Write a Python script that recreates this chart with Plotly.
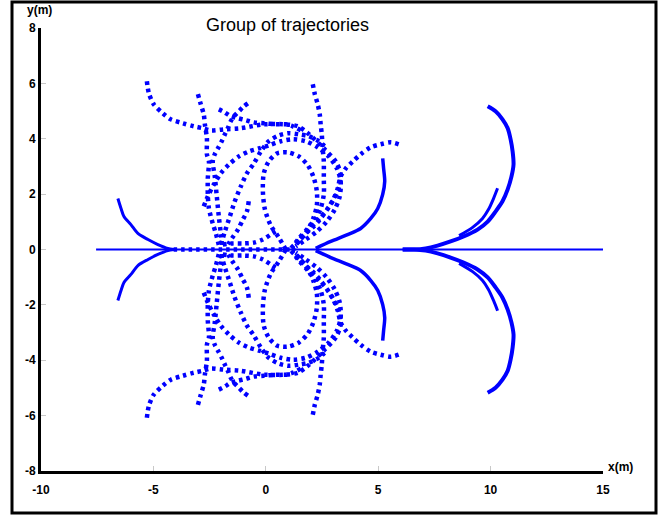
import plotly.graph_objects as go

# ---------------- data (upper half, metres); lower half is its mirror image ----------------
AXIS_X = [-7.55, 15.0]
AXIS_Y = [0.0, 0.0]
AXDOT_X = [-4.1, 1.3]
AXDOT_Y = [0.0, 0.0]

LEFT_X = [-6.58, -6.44, -6.31, -6.0, -5.69, -5.24, -4.8, -4.36, -4.09]
LEFT_Y = [1.84, 1.48, 1.19, 0.9, 0.58, 0.36, 0.18, 0.04, 0.0]

BIG_X = [9.87, 10.22, 10.53, 10.76, 10.89, 10.98, 11.02, 10.93, 10.76, 10.53, 10.22, 9.87, 9.42, 8.8, 8.22, 7.64, 7.11, 6.58, 6.09]
BIG_Y = [5.17, 4.99, 4.70, 4.38, 3.98, 3.54, 3.07, 2.64, 2.17, 1.74, 1.37, 1.01, 0.72, 0.47, 0.29, 0.14, 0.04, 0.0, 0.0]

SMALL_X = [10.31, 10.13, 9.91, 9.64, 9.2, 8.6]
SMALL_Y = [2.21, 1.84, 1.45, 1.12, 0.8, 0.5]

R1_X = [5.2, 5.24, 5.29, 5.2, 4.98, 4.67, 4.22, 3.64, 2.89, 2.22]
R1_Y = [3.29, 2.93, 2.46, 1.99, 1.48, 1.12, 0.76, 0.54, 0.29, 0.04]

R2_X = [5.91, 5.56, 5.11, 4.67, 4.22, 3.87, 3.56, 3.33, 3.2, 3.02, 2.76, 2.44, 2.13, 1.78, 1.47, 1.2]
R2_Y = [3.8, 3.87, 3.8, 3.69, 3.44, 3.18, 2.93, 2.64, 2.21, 1.84, 1.48, 1.12, 0.83, 0.58, 0.29, 0.04]

V1_X = [2.09, 2.18, 2.31, 2.4, 2.44, 2.49, 2.53, 2.58, 2.58, 2.58, 2.44, 2.22, 1.87, 1.47, 1.2]
V1_Y = [5.97, 5.61, 5.24, 4.88, 4.52, 4.16, 3.65, 3.18, 2.57, 1.99, 1.48, 1.12, 0.76, 0.4, 0.11]

A_X = [-5.29, -5.2, -4.98, -4.58, -4.22, -3.69, -3.2, -2.8, -2.44, -1.87, -1.11, -0.09, 0.89, 1.42, 1.87, 2.58, 3.11, 3.33, 3.2, 2.76, 2.13, 1.56, 1.11]
A_Y = [6.08, 5.64, 5.24, 4.92, 4.7, 4.56, 4.45, 4.38, 4.3, 4.34, 4.38, 4.52, 4.52, 4.45, 4.2, 3.65, 3.18, 2.71, 2.1, 1.48, 0.9, 0.4, 0.04]

B_X = [-3.02, -2.89, -2.76, -2.71, -2.62, -2.62, -2.53, -2.58, -2.58, -2.53, -2.36, -2.22, -2.13, -2.04]
B_Y = [5.61, 5.24, 4.88, 4.52, 4.01, 3.44, 3.18, 2.57, 1.99, 1.48, 0.94, 0.58, 0.29, 0.0]

C_X = [-0.8, -0.98, -1.2, -1.42, -1.56, -1.69, -1.82, -1.96, -2.13, -2.27, -2.36, -2.27, -2.18, -2.09, -2.0, -1.91]
C_Y = [5.28, 5.17, 4.99, 4.81, 4.63, 4.38, 4.16, 3.91, 3.65, 3.44, 3.18, 2.64, 1.92, 1.19, 0.58, 0.0]

D_X = [-2.09, -1.82, -1.56, -1.24, -0.89, -0.53, -0.09, 0.44, 0.89, 1.2, 1.56]
D_Y = [5.06, 4.95, 4.81, 4.74, 4.67, 4.59, 4.56, 4.52, 4.52, 4.45, 4.3]

OVAL_X = [0.89, 0.58, 0.22, -0.04, -0.13, -0.09, 0.13, 0.49, 0.98, 1.47, 1.87, 2.13, 2.27, 2.27, 2.13, 1.87, 1.51, 1.2]
OVAL_Y = [0.0, 0.43, 0.87, 1.45, 2.1, 2.75, 3.18, 3.47, 3.51, 3.36, 3.04, 2.6, 2.1, 1.59, 1.16, 0.72, 0.36, 0.07]

E_X = [-2.76, -2.58, -2.31, -2.0, -1.64, -1.2, -0.76, -0.31, 0.13, 0.67, 1.2, 1.78, 2.31, 2.8, 3.16, 3.33, 3.29, 3.07, 2.71, 2.27, 1.78, 1.33]
E_Y = [1.56, 1.92, 2.35, 2.75, 3.07, 3.36, 3.54, 3.65, 3.76, 3.91, 3.98, 3.91, 3.69, 3.36, 2.93, 2.46, 1.92, 1.45, 1.01, 0.65, 0.36, 0.11]

G_X = [-2.0, -1.82, -1.6, -1.38, -1.11, -0.84, -0.53, -0.22, 0.13, 0.58, 1.02, 1.47, 1.91, 2.36, 2.71]
G_Y = [0.18, 0.65, 1.19, 1.74, 2.28, 2.75, 3.11, 3.54, 3.91, 4.12, 4.2, 4.16, 4.09, 3.91, 3.65]

K_X = [-1.91, -1.47, -0.98, -0.53, -0.13, 0.22, 0.58]
K_Y = [0.18, 0.22, 0.22, 0.25, 0.36, 0.54, 0.72]

M_X = [-0.76, -0.84, -1.02, -1.24, -1.51, -1.73]
M_Y = [1.74, 1.37, 1.08, 0.72, 0.4, 0.11]

X_TICKS = [-10, -5, 0, 5, 10, 15]
Y_TICKS = [-8, -6, -4, -2, 0, 2, 4, 6, 8]

# ---------------- figure ----------------
BLUE = "#0000ff"
fig = go.Figure()


def add(xs, ys, width, dash=None, mirror=True):
    line = dict(color=BLUE, width=width, shape="spline", smoothing=0.8)
    if dash:
        line["dash"] = dash
    fig.add_trace(go.Scatter(x=xs, y=ys, mode="lines", line=line,
                             hoverinfo="skip", showlegend=False))
    if mirror:
        fig.add_trace(go.Scatter(x=xs, y=[-v for v in ys], mode="lines", line=line,
                                 hoverinfo="skip", showlegend=False))


DOT = "3.5px,4px"
add(AXIS_X, AXIS_Y, 2, mirror=False)
add(AXDOT_X, AXDOT_Y, 4.5, DOT, mirror=False)
add(LEFT_X, LEFT_Y, 3)
add(BIG_X, BIG_Y, 4)
add(SMALL_X, SMALL_Y, 3)
add(R1_X, R1_Y, 3.5)
for xs, ys in [(R2_X, R2_Y), (V1_X, V1_Y), (A_X, A_Y), (B_X, B_Y), (C_X, C_Y),
               (D_X, D_Y), (OVAL_X, OVAL_Y), (E_X, E_Y), (G_X, G_Y), (K_X, K_Y), (M_X, M_Y)]:
    add(xs, ys, 4.5, DOT)

TICKFONT = dict(family="Liberation Sans Narrow, Arial Narrow, Liberation Sans, Arial", size=12,
                color="black", weight="bold")

fig.update_layout(
    width=672, height=520,
    margin=dict(l=41, r=69, t=28, b=49),
    paper_bgcolor="white", plot_bgcolor="white",
    xaxis=dict(range=[-10, 15], tickvals=X_TICKS, ticktext=[str(v) for v in X_TICKS],
               showline=True, linecolor="black", linewidth=3, showgrid=False, zeroline=False,
               ticks="inside", ticklen=5, tickcolor="#c8c8c8", tickwidth=1, tickfont=TICKFONT,
               ticklabelstandoff=6),
    yaxis=dict(range=[-8, 8], tickvals=Y_TICKS, ticktext=[str(v) for v in Y_TICKS],
               showline=True, linecolor="black", linewidth=3, showgrid=False, zeroline=False,
               ticks="inside", ticklen=5, tickcolor="#c8c8c8", tickwidth=1, tickfont=TICKFONT),
    annotations=[
        dict(text="Group of trajectories", xref="paper", yref="paper", x=0.438, y=1.007,
             xanchor="center", yanchor="middle", showarrow=False,
             font=dict(family="Liberation Sans, Arial", size=18, color="black")),
        dict(text="y(m)", xref="paper", yref="paper", x=-0.002, y=1.041,
             xanchor="center", yanchor="middle", showarrow=False,
             font=dict(family="Liberation Sans, Arial", size=12, color="black", weight="bold")),
        dict(text="x(m)", xref="paper", yref="paper", x=1.031, y=0.01,
             xanchor="center", yanchor="middle", showarrow=False,
             font=dict(family="Liberation Sans Narrow, Liberation Sans, Arial", size=12,
                       color="black", weight="bold")),
    ],
    shapes=[dict(type="rect", xref="paper", yref="paper", x0=-0.0516, x1=1.0943,
                 y0=-0.0948, y1=1.0587, line=dict(color="black", width=3), layer="above")],
)

fig.write_html("out.html")
